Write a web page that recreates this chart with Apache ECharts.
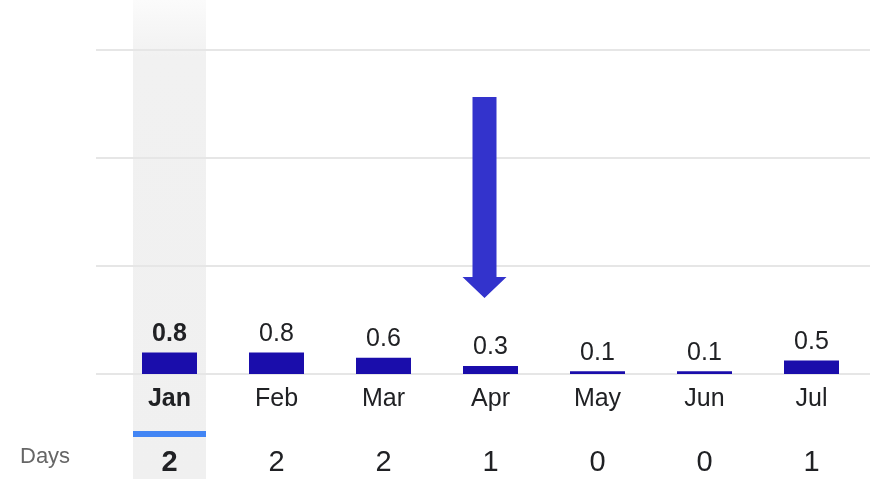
<!DOCTYPE html>
<html style="height: 100%">
<head>
    <meta charset="utf-8">
    <script src="https://cdn.jsdelivr.net/npm/echarts@6/dist/echarts.min.js"></script>
    <title>Monthly bars</title>
</head>
<body style="height: 100%; margin: 0; background: #fff">
<div id="container" style="width: 873px; height: 479px"></div>
<script type="text/javascript">
    // data
    const months = ['Jan', 'Feb', 'Mar', 'Apr', 'May', 'Jun', 'Jul'];
    const amounts = [0.8, 0.8, 0.6, 0.3, 0.1, 0.1, 0.5];
    const days = [2, 2, 2, 1, 0, 0, 1];
    const yTicks = [0, 4, 8, 12];

    const selected = 0;      // highlighted month (Jan)
    const arrowAt = 'Apr';   // month the arrow points at
    const font = 'Liberation Sans, Arial, sans-serif';
    const ink = '#202124';

    let dom = document.getElementById('container');
    let chart = echarts.init(dom);

    const yMax = yTicks[yTicks.length - 1];
    const yStep = yTicks[1] - yTicks[0];

    chart.setOption({
        animation: false,
        grid: [
            { left: 116, right: 8, top: 50, bottom: 105 },
            { left: 96, right: 3, top: 50, bottom: 105 }
        ],
        xAxis: [
            {
                type: 'category',
                gridIndex: 0,
                data: months,
                axisLine: { show: false },
                axisTick: { show: false },
                axisLabel: {
                    margin: 13,
                    formatter: function (v, i) {
                        return i === selected ? '{b|' + v + '}' : '{n|' + v + '}';
                    },
                    rich: {
                        n: { fontSize: 25, color: ink, fontFamily: font },
                        b: { fontSize: 25, color: ink, fontFamily: font, fontWeight: 'bold' }
                    }
                }
            },
            {
                type: 'category',
                gridIndex: 0,
                position: 'bottom',
                offset: 66,
                data: days.map(String),
                axisLine: { show: false },
                axisTick: { show: false },
                axisLabel: {
                    margin: 8,
                    formatter: function (v, i) {
                        return i === selected ? '{b|' + v + '}' : '{n|' + v + '}';
                    },
                    rich: {
                        n: { fontSize: 29, color: ink, fontFamily: font },
                        b: { fontSize: 29, color: ink, fontFamily: font, fontWeight: 'bold' }
                    }
                }
            },
            {
                type: 'category',
                gridIndex: 1,
                data: months,
                show: false
            }
        ],
        yAxis: [
            {
                type: 'value',
                gridIndex: 0,
                min: 0, max: yMax, interval: yStep,
                show: false
            },
            {
                type: 'value',
                gridIndex: 1,
                min: 0, max: yMax, interval: yStep,
                axisLine: { show: false },
                axisTick: { show: false },
                axisLabel: { show: false },
                splitLine: { lineStyle: { color: '#e6e6e6', width: 2 } }
            }
        ],
        series: [
            {
                type: 'bar',
                xAxisIndex: 0,
                yAxisIndex: 0,
                barWidth: 55,
                itemStyle: { color: '#1a0dab' },
                label: {
                    show: true,
                    position: 'top',
                    distance: 6,
                    fontSize: 25,
                    color: ink,
                    fontFamily: font
                },
                data: amounts.map(function (v, i) {
                    return i === selected
                        ? { value: v, label: { fontWeight: 'bold' } }
                        : v;
                }),
                z: 3
            }
        ]
    });

    // annotations placed from the axis scale
    const selX = chart.convertToPixel({ xAxisIndex: 0 }, months[selected]);
    const arX = chart.convertToPixel({ xAxisIndex: 0 }, arrowAt) - 6;
    const base = chart.convertToPixel({ yAxisIndex: 0 }, 0);

    chart.setOption({
        graphic: [
            {
                type: 'rect',
                z: -10,
                shape: { x: selX - 36.5, y: 0, width: 73, height: 479 },
                style: {
                    fill: new echarts.graphic.LinearGradient(0, 0, 0, 1, [
                        { offset: 0, color: '#fbfbfb' },
                        { offset: 0.12, color: '#f1f1f1' },
                        { offset: 1, color: '#f0f0f0' }
                    ])
                }
            },
            {
                type: 'rect',
                shape: { x: selX - 36.5, y: base + 57, width: 73, height: 6 },
                style: { fill: '#4285f4' }
            },
            {
                type: 'text',
                left: 20,
                top: 446,
                style: { text: 'Days', fontSize: 22, fill: '#666', fontFamily: font }
            },
            {
                type: 'polygon',
                shape: {
                    points: [
                        [arX - 12, 97], [arX + 12, 97], [arX + 12, 277],
                        [arX + 22, 277], [arX, 298], [arX - 22, 277],
                        [arX - 12, 277]
                    ]
                },
                style: { fill: '#3333cc' }
            }
        ]
    });
</script>
</body>
</html>
